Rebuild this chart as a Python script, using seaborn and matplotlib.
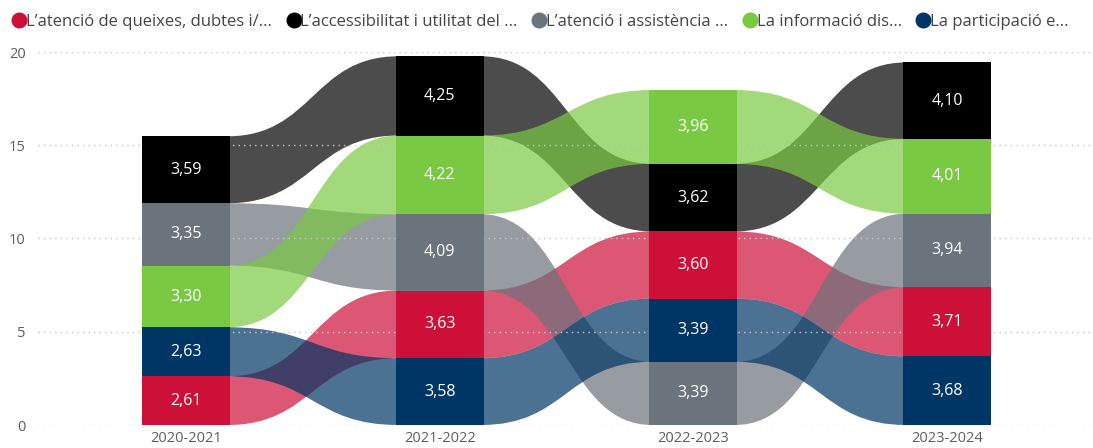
import numpy as np
import pandas as pd
import matplotlib
matplotlib.use("Agg")
import matplotlib.pyplot as plt
import seaborn as sns
from matplotlib.path import Path
from matplotlib.patches import PathPatch
from matplotlib.lines import Line2D

# ---------------- data ----------------
categories = ["2020-2021", "2021-2022", "2022-2023", "2023-2024"]
series_names = [
    "L’atenció de queixes, dubtes i/...",
    "L’accessibilitat i utilitat del ...",
    "L’atenció i assistència ...",
    "La informació dis...",
    "La participació e...",
]
queixes = [2.61, 3.63, 3.60, 3.71]
accessibilitat = [3.59, 4.25, 3.62, 4.10]
assistencia = [3.35, 4.09, 3.39, 3.94]
informacio = [3.30, 4.22, 3.96, 4.01]
participacio = [2.63, 3.58, 3.39, 3.68]
y_ticks = [0, 5, 10, 15, 20]

colors = ["#CC1038", "#000000", "#6B737C", "#7AC943", "#003665"]

# ---------------- setup ----------------
sns.set_theme(style="white")
plt.rcParams["font.family"] = ["Open Sans", "DejaVu Sans"]

values = np.array([queixes, accessibilitat, assistencia, informacio, participacio])
n_series, n_cat = values.shape

# ribbon-chart stacking: smallest value at the bottom in each category
bottoms = np.zeros_like(values)
for c in range(n_cat):
    order = np.argsort(values[:, c], kind="stable")
    acc = 0.0
    for s in order:
        bottoms[s, c] = acc
        acc += values[s, c]
tops = bottoms + values

W, H = 1093, 448
fig = plt.figure(figsize=(W / 100, H / 100), dpi=100)
ax = fig.add_axes([38 / W, (H - 425) / H, 1 - 38 / W, (425 - 52) / H])

BAR_W = 0.347
OVERLAP = 0.01

# ribbons
for s in range(n_series):
    for c in range(n_cat - 1):
        x0 = c + BAR_W / 2 - OVERLAP
        x1 = c + 1 - BAR_W / 2 + OVERLAP
        xm = (x0 + x1) / 2
        b0, b1 = bottoms[s, c], bottoms[s, c + 1]
        t0, t1 = tops[s, c], tops[s, c + 1]
        verts = [(x0, b0), (xm, b0), (xm, b1), (x1, b1),
                 (x1, t1), (xm, t1), (xm, t0), (x0, t0), (x0, b0)]
        codes = [Path.MOVETO, Path.CURVE4, Path.CURVE4, Path.CURVE4,
                 Path.LINETO, Path.CURVE4, Path.CURVE4, Path.CURVE4, Path.CLOSEPOLY]
        ax.add_patch(PathPatch(Path(verts, codes), facecolor=colors[s],
                               edgecolor="none", alpha=0.7, zorder=1))

# bars
for s in range(n_series):
    df = pd.DataFrame({"cat": categories, "val": values[s]})
    sns.barplot(data=df, x="cat", y="val", order=categories, color=colors[s],
                saturation=1, width=BAR_W, bottom=bottoms[s], errorbar=None,
                ax=ax, zorder=3, linewidth=0)
    for c in range(n_cat):
        ax.text(c, bottoms[s, c] + values[s, c] / 2,
                f"{values[s, c]:.2f}".replace(".", ","),
                ha="center", va="center", color="white", fontsize=11.5, zorder=4)

ax.set_xlim((38 - 186) / 253.7, (1093 - 186) / 253.7)
ax.set_ylim(0, 20)
ax.set_yticks(y_ticks)
ax.set_yticklabels([str(t) for t in y_ticks])
ax.set_xlabel("")
ax.set_ylabel("")
ax.yaxis.grid(True, linestyle=(0, (1, 3)), color="#C8C8C8", linewidth=1, zorder=2)
ax.set_axisbelow(False)
for sp in ax.spines.values():
    sp.set_visible(False)
ax.tick_params(axis="both", length=0, labelsize=10.5, labelcolor="#605E5C")
ax.tick_params(axis="y", pad=9)
ax.tick_params(axis="x", pad=4)
for gl in ax.get_ygridlines():
    gl.set_zorder(2)

handles = [Line2D([0], [0], marker="o", linestyle="none", markersize=10.5,
                  markerfacecolor=col, markeredgecolor=col) for col in colors]
fig.legend(handles, series_names, loc="upper left", bbox_to_anchor=(-0.002, 0.995),
           ncol=5, frameon=False, fontsize=12, handletextpad=-0.2,
           columnspacing=0.7, handlelength=1.2, labelcolor="#444444",
           borderaxespad=0.3)

fig.savefig("out.png", dpi=100)
